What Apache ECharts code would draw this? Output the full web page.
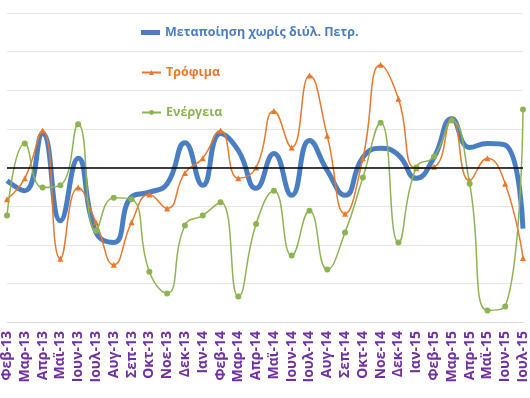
<!DOCTYPE html>
<html><head><meta charset="utf-8">
<script src="https://cdn.jsdelivr.net/npm/echarts@6/dist/echarts.min.js"></script>
<style>html,body{margin:0;padding:0;background:#fff}#c{width:530px;height:398px}</style>
</head><body><div id="c"></div>
<script>
const categories = ['Φεβ-13','Μαρ-13','Απρ-13','Μαϊ-13','Ιουν-13','Ιουλ-13','Αυγ-13','Σεπ-13','Οκτ-13','Νοε-13','Δεκ-13',
  'Ιαν-14','Φεβ-14','Μαρ-14','Απρ-14','Μαϊ-14','Ιουν-14','Ιουλ-14','Αυγ-14','Σεπ-14','Οκτ-14','Νοε-14','Δεκ-14',
  'Ιαν-15','Φεβ-15','Μαρ-15','Απρ-15','Μαϊ-15','Ιουν-15','Ιουλ-15'];
const manufacturing = [-1.7,-3.0,4.4,-6.9,1.2,-8.4,-9.7,-3.8,-3.2,-2.1,3.2,-2.3,4.4,2.2,-2.7,1.8,-3.6,3.5,-0.4,-3.6,1.3,2.5,1.6,-1.4,1.3,6.3,2.6,3.1,2.9,-7.9];
const food = [-4.1,-1.4,4.8,-11.8,-2.6,-7.1,-12.6,-7.1,-3.5,-5.3,-0.7,1.2,4.8,-1.4,0.0,7.3,2.6,11.9,4.1,-6.0,1.2,13.3,8.9,-0.1,0.1,6.3,-1.7,1.2,-2.1,-11.7];
const energy = [-6.2,3.1,-2.6,-2.3,5.6,-8.2,-3.9,-4.1,-13.5,-16.3,-7.5,-6.2,-4.5,-16.7,-7.3,-3.0,-11.4,-5.6,-13.2,-8.4,-1.3,5.8,-9.7,0.0,1.4,6.1,-2.1,-18.5,-18.0,7.5];
const seriesNames = ['Μεταποίηση χωρίς διύλ. Πετρ.','Τρόφιμα','Ενέργεια'];
const yTicks = {min:-20, max:20, interval:5};

const colors = ['#4A7EC2','#E8792C','#8DB452'];
const legendText = {fontFamily:'Open Sans', fontWeight:'bold', fontSize:12.5};
const chart = echarts.init(document.getElementById('c'));
chart.setOption({
  animation:false,
  grid:{left:-1, right:5, top:13, bottom:76, containLabel:false},
  legend:[
    {orient:'vertical', left:141, top:26, padding:0, itemWidth:19, itemHeight:5, icon:'rect',
     textStyle:legendText,
     data:[{name:seriesNames[0], textStyle:{color:colors[0]}}]},
    {orient:'vertical', left:141, top:66, padding:0, itemWidth:19, itemHeight:6, itemGap:27,
     textStyle:legendText,
     data:[{name:seriesNames[1], textStyle:{color:colors[1]}},{name:seriesNames[2], textStyle:{color:colors[2]}}]}
  ],
  xAxis:{
    type:'category', data:categories, boundaryGap:false,
    axisLine:{show:true, onZero:false, lineStyle:{color:'#D9D9D9'}},
    axisTick:{show:false},
    axisLabel:{interval:0, rotate:90, color:'#7030A0', fontWeight:'bold', fontSize:14, fontFamily:'Open Sans', margin:9},
    splitLine:{show:false}
  },
  yAxis:{
    type:'value', min:yTicks.min, max:yTicks.max, interval:yTicks.interval,
    axisLabel:{show:false}, axisLine:{show:false}, axisTick:{show:false},
    splitLine:{lineStyle:{color:'#E6E6E6', width:1}}
  },
  series:[
    {name:seriesNames[0], type:'line', data:manufacturing, smooth:0.5, symbol:'none', color:colors[0],
     lineStyle:{width:5, color:colors[0]},
     markLine:{silent:true, symbol:'none', label:{show:false}, lineStyle:{color:'#000', width:1.5, type:'solid'}, data:[{yAxis:0}]}},
    {name:seriesNames[1], type:'line', data:food, smooth:0.5, symbol:'triangle', symbolSize:6, showSymbol:true, color:colors[1],
     lineStyle:{width:1.5, color:colors[1]}, itemStyle:{color:colors[1]}},
    {name:seriesNames[2], type:'line', data:energy, smooth:0.5, symbol:'circle', symbolSize:6, showSymbol:true, color:colors[2],
     lineStyle:{width:1.5, color:colors[2]}, itemStyle:{color:colors[2]}}
  ]
});
</script></body></html>
